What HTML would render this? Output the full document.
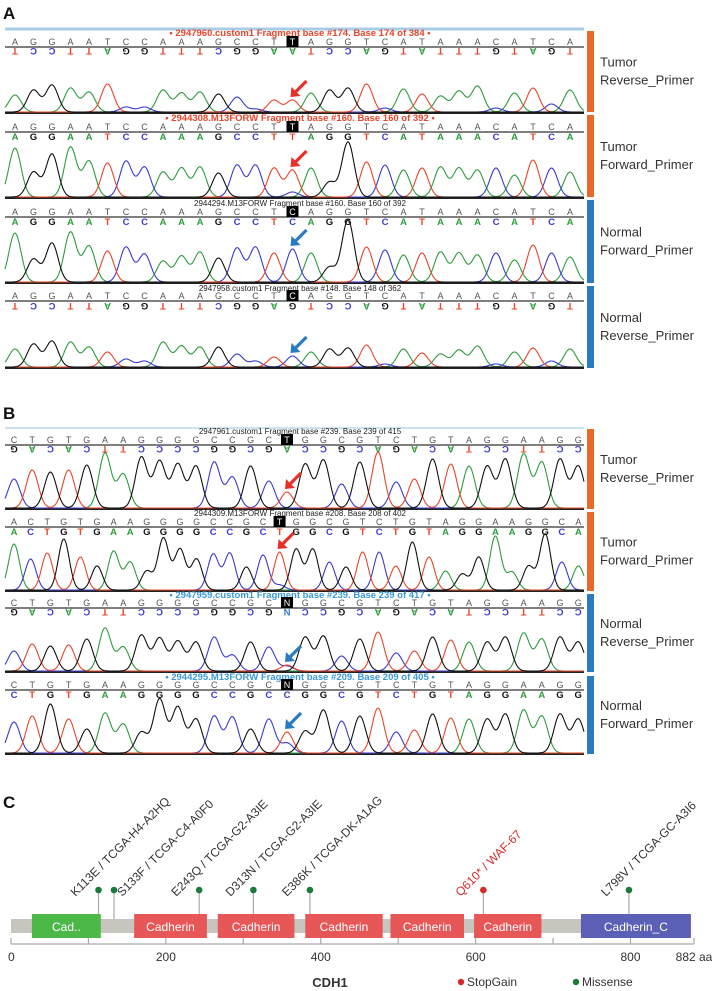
<!DOCTYPE html>
<html><head><meta charset="utf-8">
<style>
html,body{margin:0;padding:0;background:#fff;}
svg{display:block;font-family:"Liberation Sans",Arial,sans-serif;}
</style></head>
<body>
<svg id="fig" width="712" height="991" viewBox="0 0 712 991">
  <text x="3" y="19" font-size="17" font-weight="bold" fill="#111">A</text>
  <text x="3" y="419" font-size="17" font-weight="bold" fill="#111">B</text>
  <text x="3" y="808" font-size="17" font-weight="bold" fill="#111">C</text>
  <line x1="5" y1="29" x2="584" y2="29" stroke="#a9cde6" stroke-width="3"/>
  <line x1="5" y1="428" x2="584" y2="428" stroke="#cfe2f0" stroke-width="2"/>
  <g id="tracks"></g>
  <g id="sidebars"></g>
  <g id="lolli"></g>
</svg>
<script>
// ---------- chromatogram data ----------
const seqA1 = "AGGAATCCAAAGCCTTAGGTCATAAACATCA";
const seqA2 = "AGGAATCCAAAGCCTTAGGTCATAAACATCA";
const seqA3 = "AGGAATCCAAAGCCTCAGGTCATAAACATCA";
const seqA4 = "AGGAATCCAAAGCCTCAGGTCATAAACATCA";
const seqB1 = "CTGTGAAGGGGCCGCTGGCGTCTGTAGGAAGG";
const seqB2 = "ACTGTGAAGGGGCCGCTGGCGTCTGTAGGAAGGCA";
const seqB3 = "CTGTGAAGGGGCCGCNGGCGTCTGTAGGAAGG";
const seqB4 = "CTGTGAAGGGGCCGCNGGCGTCTGTAGGAAGG";
const hA1 = [17,22,27,24,20,28,5,5,22,19,20,18,15,3,12,12,19,22,24,28,4,23,18,16,21,26,4,19,24,8,22];
const hA2 = [49,25,43,50,36,34,36,30,25,29,30,24,32,32,29,27,29,15,55,35,32,27,29,30,29,27,29,22,37,29,25];
const hA3 = [49,23,39,50,36,31,35,28,21,26,30,24,34,35,29,33,29,15,62,35,32,27,29,30,29,27,29,22,37,29,25];
const hA4 = [18,23,26,25,20,15,8,6,25,21,20,20,13,6,10,11,15,18,19,22,3,18,14,13,17,21,3,15,19,6,18];
const hB1 = [29,38,36,38,43,55,34,51,47,44,42,46,31,42,27,16,44,48,24,46,56,26,29,49,44,42,42,49,54,46,49,42];
const hB2 = [46,31,37,51,33,24,39,28,19,52,41,31,36,37,23,35,38,41,41,28,23,38,38,24,48,33,19,16,33,54,18,24,56,28,24];
const hB3 = [20,27,25,26,32,43,24,36,33,30,29,34,16,29,24,6,34,35,15,32,39,18,20,34,31,29,29,34,38,32,34,29];
const hB4 = [31,37,49,34,24,40,29,21,54,46,34,37,36,24,34,21,22,43,32,37,45,21,23,39,35,34,34,39,43,37,39,34];
// secondary (mutant/wild-type overlap) peaks: [index, base, height]
const secA2 = [[15,"C",5]];
const secB2 = [[16,"C",5]];
const secB3 = [[15,"C",5]];
const secB4 = [[15,"C",10]];

const COL = {A:"#2e9b3e", G:"#111111", C:"#3a3ad0", T:"#e8452a", N:"#3a7fd0"};
const COMP = {A:"T", T:"A", G:"C", C:"G", N:"N"};
const NS = "http://www.w3.org/2000/svg";
function mk(tag, attrs, parent){const e=document.createElementNS(NS,tag);for(const k in attrs)e.setAttribute(k,attrs[k]);if(parent)parent.appendChild(e);return e;}

const tracksG = document.getElementById('tracks');
const layout = [
 {seq:seqA1,h:hA1,sec:[],rev:true, x0:15,sp:18.5,titleY:36,seqY:45,lineY:47,lowY:55,bottom:113,box:15,title:"• 2947960.custom1 Fragment base #174. Base 174 of 384 •",tc:"#e8452a",tb:true,arrow:"#e8302a",name:"a-tumor-reverse"},
 {seq:seqA2,h:hA2,sec:secA2,rev:false,x0:15,sp:18.5,titleY:121,seqY:130,lineY:132,lowY:140,bottom:198,box:15,title:"• 2944308.M13FORW Fragment base #160. Base 160 of 392 •",tc:"#e8452a",tb:true,arrow:"#e8302a",name:"a-tumor-forward"},
 {seq:seqA3,h:hA3,sec:[],rev:false,x0:15,sp:18.5,titleY:206,seqY:215,lineY:217,lowY:225,bottom:283,box:15,title:"2944294.M13FORW Fragment base #160. Base 160 of 392",tc:"#222",tb:false,arrow:"#2a7bbf",name:"a-normal-forward"},
 {seq:seqA4,h:hA4,sec:[],rev:true, x0:15,sp:18.5,titleY:291,seqY:299,lineY:301,lowY:310,bottom:368,box:15,title:"2947958.custom1 Fragment base #148. Base 148 of 362",tc:"#222",tb:false,arrow:"#2a7bbf",name:"a-normal-reverse"},
 {seq:seqB1,h:hB1,sec:[],rev:true, x0:14,sp:18.2,titleY:434,seqY:443,lineY:445,lowY:453,bottom:509,box:15,title:"2947961.custom1 Fragment base #239. Base 239 of 415",tc:"#222",tb:false,arrow:"#e8302a",name:"b-tumor-reverse"},
 {seq:seqB2,h:hB2,sec:secB2,rev:false,x0:14,sp:16.6,titleY:516,seqY:525,lineY:527,lowY:535,bottom:591,box:16,title:"2944309.M13FORW Fragment base #208. Base 208 of 402",tc:"#222",tb:false,arrow:"#e8302a",name:"b-tumor-forward"},
 {seq:seqB3,h:hB3,sec:secB3,rev:true, x0:14,sp:18.2,titleY:598,seqY:606,lineY:608,lowY:616,bottom:672,box:15,title:"• 2947959.custom1 Fragment base #239. Base 239 of 417 •",tc:"#3a9ad9",tb:true,arrow:"#2a7bbf",name:"b-normal-reverse"},
 {seq:seqB4,h:hB4,sec:secB4,rev:false,x0:14,sp:18.2,titleY:680,seqY:688,lineY:690,lowY:698,bottom:754,box:15,title:"• 2944295.M13FORW Fragment base #209. Base 209 of 405 •",tc:"#3a9ad9",tb:true,arrow:"#2a7bbf",name:"b-normal-forward"}
];

layout.forEach(t=>{
  const g = mk('g',{},tracksG);
  
  
  const tt = mk('text',{x:300,y:t.titleY,'font-size':t.tb?9.5:8,'font-weight':t.tb?'bold':'normal',fill:t.tc,'text-anchor':'middle'},g);
  tt.textContent = t.title;
  
  
  const ln = mk('line',{x1:5,y1:t.lineY,x2:584,y2:t.lineY,stroke:'#333','stroke-width':1.3},g);
  
  
  const bl = mk('line',{x1:5,y1:t.bottom,x2:584,y2:t.bottom,stroke:'#222','stroke-width':2},g);
  
  
  const bx = (i)=>t.x0+i*t.sp;
  for(let i=0;i<t.seq.length;i++){
    const b=t.seq[i], x=bx(i);
    if(i===t.box){
      const r = mk('rect',{x:x-6,y:t.seqY-9,width:12,height:11,fill:'#000'},g);
      
      
    }
    const tx = mk('text',{x:x,y:t.seqY,'font-size':9,fill:i===t.box?'#fff':'#555','text-anchor':'middle'},g);
    tx.textContent = b;
    
    
    let lb = t.rev ? COMP[b] : (b==='N'?'C':b);
    const lo = mk('text',{x:x,y:t.lowY,'font-size':9.5,'font-weight':'bold',fill:COL[lb],'text-anchor':'middle'},g);
    if(t.rev) lo.setAttribute('transform','rotate(180 '+x+' '+(t.lowY-3.5)+')');
    lo.textContent = lb;
    
    
  }
  // traces
  const sig = t.sp*0.33;
  ['A','C','T','G'].forEach(c=>{
    const peaks=[];
    for(let i=0;i<t.seq.length;i++){let b=t.seq[i]==='N'?'T':t.seq[i]; if(b===c) peaks.push([bx(i),t.h[i]]);}
    t.sec.forEach(s=>{ if(s[1]===c) peaks.push([bx(s[0]),s[2]]); });
    let d='';
    for(let x=5;x<=584;x+=1){
      let y=0; peaks.forEach(p=>{y+=p[1]*Math.exp(-((x-p[0])**2)/(2*sig*sig));});
      d += (x===5?'M':'L')+x+' '+(t.bottom-1-y).toFixed(1);
    }
    const p = mk('path',{d:d,fill:'none',stroke:COL[c],'stroke-width':1.1},g);
    
    
  });
  // arrow
  const ax = bx(t.box), ay = t.bottom - t.h[t.box] - 4;
  const ar = mk('g',{},g);
  
  
  mk('line',{x1:ax+14,y1:ay-16,x2:ax+2,y2:ay-4,stroke:t.arrow,'stroke-width':3.2},ar);
  mk('polygon',{points:(ax-2)+','+ay+' '+(ax-1)+','+(ay-10)+' '+(ax+8)+','+(ay-1),fill:t.arrow},ar);
});

// sidebars
const sb = document.getElementById('sidebars');
const sideY = [[31,112],[115,197],[200,283],[286,368],[429,509],[512,591],[594,672],[676,754]];
const sideCol = ["#e8692a","#e8692a","#2a7bbf","#2a7bbf","#e8692a","#e8692a","#2a7bbf","#2a7bbf"];
const sideL1 = ["Tumor","Tumor","Normal","Normal","Tumor","Tumor","Normal","Normal"];
const sideL2 = ["Reverse_Primer","Forward_Primer","Forward_Primer","Reverse_Primer","Reverse_Primer","Forward_Primer","Reverse_Primer","Forward_Primer"];
sideY.forEach((s,i)=>{
  const r = mk('rect',{x:587,y:s[0],width:7,height:s[1]-s[0],fill:sideCol[i]},sb);
  
  
  const m=(s[0]+s[1])/2;
  const t1 = mk('text',{x:600,y:m-5,'font-size':13,fill:'#333'},sb); t1.textContent=sideL1[i];
  
  
  const t2 = mk('text',{x:600,y:m+13,'font-size':13,fill:'#333'},sb); t2.textContent=sideL2[i];
  
  
});

// ---------- lollipop data ----------
const domNames = ["Cad..","Cadherin","Cadherin","Cadherin","Cadherin","Cadherin","Cadherin_C"];
const domStart = [27,159,267,380,490,598,736];
const domEnd   = [116,253,366,480,585,685,878];
const domType  = ["g","r","r","r","r","r","p"];
const mutPos   = [113,133,243,313,386,610,798];
const mutLabel = ["K113E / TCGA-H4-A2HQ","S133F / TCGA-C4-A0F0","E243Q / TCGA-G2-A3IE","D313N / TCGA-G2-A3IE","E386K / TCGA-DK-A1AG","Q610* / WAF-67","L798V / TCGA-GC-A3I6"];
const mutType  = ["m","m","m","m","m","s","m"];
const ticks    = [0,100,200,300,400,500,600,700,800,882];
const tickLabels = ["0","","200","","400","","600","","800","882 aa"];
const protLen = 882;

const LG = document.getElementById('lolli');
const xs = aa => 11 + aa*(683/protLen);
const DC = {g:"#4cb848",r:"#e85757",p:"#5b5fb5"};
const MC = {m:"#1a7a3a",s:"#d42a2a"};
const bar = mk('rect',{x:xs(0),y:919,width:xs(876)-xs(0),height:14,fill:'#c6c6bf'},LG);


mutPos.forEach((p,i)=>{
  const st = mk('line',{x1:xs(p),y1:890,x2:xs(p),y2:919,stroke:'#aaa','stroke-width':1.2},LG);
  
  
});
domNames.forEach((n,i)=>{
  const r = mk('rect',{x:xs(domStart[i]),y:914,width:xs(domEnd[i])-xs(domStart[i]),height:24,fill:DC[domType[i]]},LG);
  
  
  const t = mk('text',{x:(xs(domStart[i])+xs(domEnd[i]))/2,y:931,'font-size':12,fill:'#fff','text-anchor':'middle'},LG);
  t.textContent=n;
  
  
});
mutPos.forEach((p,i)=>{
  const x=xs(p);
  const c = mk('circle',{cx:x,cy:890,r:3.3,fill:MC[mutType[i]]},LG);
  
  
  const dx = (i>0 && xs(p)-xs(mutPos[i-1])<30) ? 8 : -23;
  const tx=x+dx, ty=897;
  const t = mk('text',{x:tx,y:ty,'font-size':12,fill:mutType[i]==='s'?'#d42a2a':'#333',transform:'rotate(-45 '+tx+' '+ty+')'},LG);
  t.textContent = mutLabel[i];
  
  
});
const ax = mk('line',{x1:xs(0),y1:944,x2:xs(protLen),y2:944,stroke:'#aaa','stroke-width':1.2},LG);


ticks.forEach((v,i)=>{
  const tk = mk('line',{x1:xs(v),y1:938,x2:xs(v),y2:944,stroke:'#aaa','stroke-width':1.2},LG);
  
  
  if(tickLabels[i]){
    const t = mk('text',{x:xs(v),y:961,'font-size':12,fill:'#333','text-anchor':i===ticks.length-1?'middle':'middle'},LG);
    if(i===0) t.setAttribute('text-anchor','start'), t.setAttribute('x', xs(v)-3);
    t.textContent=tickLabels[i];
    
    
  }
});
const gn = mk('text',{x:330,y:987,'font-size':13,'font-weight':'bold',fill:'#333','text-anchor':'middle'},LG);
gn.textContent='CDH1';


[["StopGain","#d42a2a",461],["Missense","#1a7a3a",576]].forEach(l=>{
  const g = mk('g',{},LG);
  
  
  mk('circle',{cx:l[2],cy:982,r:3.2,fill:l[1]},g);
  const t = mk('text',{x:l[2]+6,y:986,'font-size':12,fill:'#333'},g);
  t.textContent=l[0];
});
</script>
</body></html>
